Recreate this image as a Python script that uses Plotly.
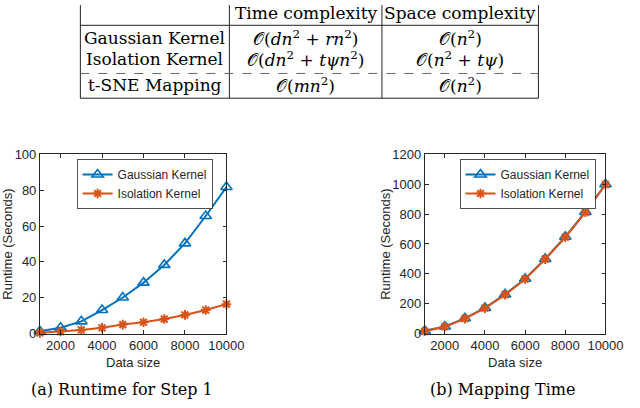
import plotly.graph_objects as go

# ---------------- data ----------------
data_size = [1000, 2000, 3000, 4000, 5000, 6000, 7000, 8000, 9000, 10000]
gauss_step1 = [1.3, 3.2, 6.8, 13.1, 20.1, 28.4, 38.3, 50.3, 65.6, 81.8]
iso_step1 = [0.4, 1.1, 2.0, 3.2, 5.0, 6.3, 8.1, 10.4, 13.1, 16.4]
gauss_map = [18, 47, 102, 172, 262, 367, 500, 648, 815, 1000]
iso_map = [15, 45, 100, 170, 260, 365, 498, 645, 812, 998]

series_names = ["Gaussian Kernel", "Isolation Kernel"]
x_ticks = [2000, 4000, 6000, 8000, 10000]
x_tick_labels = ["2000", "4000", "6000", "8000", "10000"]
y_ticks_a = [0, 20, 40, 60, 80, 100]
y_ticks_b = [0, 200, 400, 600, 800, 1000, 1200]

table_header = ["Time complexity", "Space complexity"]
table_rows = ["Gaussian Kernel", "Isolation Kernel", "t-SNE Mapping"]
time_cx = ["𝒪(<i>dn</i><sup>2</sup> + <i>rn</i><sup>2</sup>)",
           "𝒪(<i>dn</i><sup>2</sup> + <i>tψn</i><sup>2</sup>)",
           "𝒪(<i>mn</i><sup>2</sup>)"]
space_cx = ["𝒪(<i>n</i><sup>2</sup>)",
            "𝒪(<i>n</i><sup>2</sup> + <i>tψ</i>)",
            "𝒪(<i>n</i><sup>2</sup>)"]
captions = ["(a) Runtime for Step 1", "(b) Mapping Time"]
x_title = "Data size"
y_title = "Runtime (Seconds)"

# ---------------- styling ----------------
W, H = 640, 408
BLUE = "#0072BD"
ORANGE = "#D95319"
AX = "#262626"
SANS = "Liberation Sans, Arial, sans-serif"
SERIF = "DejaVu Serif, serif"


def px(x):
    return x / W


def py(y):
    return 1 - y / H


fig = go.Figure()

for (gv, iv, xa, ya, lg) in [(gauss_step1, iso_step1, "x", "y", "legend"),
                              (gauss_map, iso_map, "x2", "y2", "legend2")]:
    fig.add_trace(go.Scatter(
        x=data_size, y=gv, name=series_names[0], xaxis=xa, yaxis=ya, legend=lg,
        mode="lines+markers", cliponaxis=False,
        line=dict(color=BLUE, width=2),
        marker=dict(symbol="triangle-up-open", size=10, color=BLUE,
                    line=dict(color=BLUE, width=1.6)),
    ))
    fig.add_trace(go.Scatter(
        x=data_size, y=iv, name=series_names[1], xaxis=xa, yaxis=ya, legend=lg,
        mode="lines+markers", cliponaxis=False,
        line=dict(color=ORANGE, width=2),
        marker=dict(symbol="asterisk-open", size=8, color=ORANGE,
                    line=dict(color=ORANGE, width=2)),
    ))

axis_common = dict(showline=True, linecolor=AX, linewidth=0.8, mirror="ticks",
                   ticks="inside", ticklen=4, tickcolor=AX, tickwidth=0.8,
                   showgrid=False, zeroline=False,
                   tickfont=dict(family=SANS, size=13, color=AX))

x1d = [px(41), px(233)]
x2d = [px(437), px(623)]
yd = [py(339), py(153)]

legend_common = dict(xanchor="left", yanchor="top", bgcolor="white",
                     bordercolor=AX, borderwidth=0.8,
                     font=dict(family=SANS, size=12, color=AX), itemwidth=30,
                     tracegroupgap=0)

fig.update_layout(
    width=W, height=H, margin=dict(l=0, r=0, t=0, b=0),
    paper_bgcolor="white", plot_bgcolor="white",
    font=dict(family=SANS, color=AX),
    xaxis=dict(domain=x1d, range=[1000, 10000], tickvals=x_ticks, ticktext=x_tick_labels,
               anchor="y", **axis_common),
    yaxis=dict(domain=yd, range=[0, 100], tickvals=y_ticks_a,
               ticktext=[str(v) for v in y_ticks_a], anchor="x", **axis_common),
    xaxis2=dict(domain=x2d, range=[1000, 10000], tickvals=x_ticks, ticktext=x_tick_labels,
                anchor="y2", **axis_common),
    yaxis2=dict(domain=yd, range=[0, 1200], tickvals=y_ticks_b,
                ticktext=[str(v) for v in y_ticks_b], anchor="x2", **axis_common),
    legend=dict(x=px(79), y=py(158), **legend_common),
    legend2=dict(x=px(473), y=py(158), **legend_common),
)

ann = []
# axis titles
for cx in [137, 530]:
    ann.append(dict(text=x_title, x=px(cx), y=py(369), xref="paper", yref="paper",
                    showarrow=False, xanchor="center", yanchor="middle",
                    font=dict(family=SANS, size=13, color=AX)))
for cx in [8, 397]:
    ann.append(dict(text=y_title, x=px(cx), y=py(246), xref="paper", yref="paper",
                    showarrow=False, xanchor="center", yanchor="middle", textangle=-90,
                    font=dict(family=SANS, size=13, color=AX)))
# captions
for cx, t in zip([126, 517], captions):
    ann.append(dict(text=t, x=px(cx), y=py(397), xref="paper", yref="paper",
                    showarrow=False, xanchor="center", yanchor="middle",
                    font=dict(family=SERIF, size=16, color="black")))

# table
col_edges = [82.7, 236, 393, 554]
col_centers = [(col_edges[i] + col_edges[i + 1]) / 2 for i in range(3)]
row_y = [32, 54, 81]
header_y = 6
tf = dict(family=SERIF, size=17, color="black")
for c, t in zip(col_centers[1:], table_header):
    ann.append(dict(text=t, x=px(c), y=py(header_y), xref="paper", yref="paper",
                    showarrow=False, xanchor="center", yanchor="middle", font=tf))
for i, ry in enumerate(row_y):
    for c, t in zip(col_centers, [table_rows[i], time_cx[i], space_cx[i]]):
        ann.append(dict(text=t, x=px(c), y=py(ry), xref="paper", yref="paper",
                        showarrow=False, xanchor="center", yanchor="middle", font=tf))
fig.update_layout(annotations=ann)

shapes = []
for xe in col_edges:
    shapes.append(dict(type="line", xref="paper", yref="paper",
                       x0=px(xe), x1=px(xe), y0=py(-2), y1=py(94.7),
                       line=dict(color="#222", width=1)))
for yl, dash, col in [(19, "solid", "#222"), (69, "dash", "#666"), (94.7, "solid", "#222")]:
    shapes.append(dict(type="line", xref="paper", yref="paper",
                       x0=px(col_edges[0]), x1=px(col_edges[-1]), y0=py(yl), y1=py(yl),
                       line=dict(color=col, width=1, dash=dash)))
fig.update_layout(shapes=shapes)

fig.write_html("out.html", config={"displayModeBar": False},
               post_script="document.body.style.margin='0';document.body.style.padding='0';")
